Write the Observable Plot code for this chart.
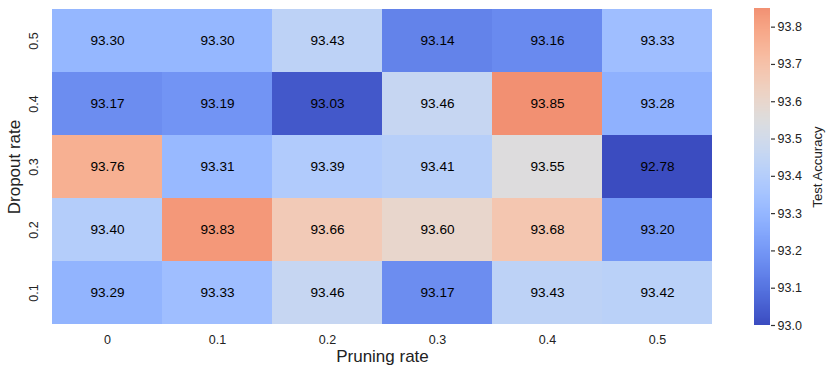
<!DOCTYPE html>
<html>
<head>
<meta charset="utf-8">
<script src="https://cdn.jsdelivr.net/npm/d3@7"></script>
<script src="https://cdn.jsdelivr.net/npm/@observablehq/plot@0.6"></script>
<style>
  body { margin: 0; background: #fff; }
  #wrap { position: relative; width: 831px; height: 376px; font-family: "Liberation Sans", Arial, Helvetica, sans-serif; }
  #main, #cbar { position: absolute; top: 0; }
  #main { left: 0; }
  #cbar { left: 740px; }
</style>
</head>
<body>
<div id="wrap"><div id="main"></div><div id="cbar"></div></div>
<script>
// Data
const pruningRates = ["0", "0.1", "0.2", "0.3", "0.4", "0.5"];
const dropoutRates = ["0.5", "0.4", "0.3", "0.2", "0.1"]; // top to bottom
const acc_d05 = [93.30, 93.30, 93.43, 93.14, 93.16, 93.33];
const acc_d04 = [93.17, 93.19, 93.03, 93.46, 93.85, 93.28];
const acc_d03 = [93.76, 93.31, 93.39, 93.41, 93.55, 92.78];
const acc_d02 = [93.40, 93.83, 93.66, 93.60, 93.68, 93.20];
const acc_d01 = [93.29, 93.33, 93.46, 93.17, 93.43, 93.42];
const rows = [acc_d05, acc_d04, acc_d03, acc_d02, acc_d01];
const cbarTicks = [93.0, 93.1, 93.2, 93.3, 93.4, 93.5, 93.6, 93.7, 93.8];

const cells = [];
rows.forEach((r, i) => r.forEach((v, j) => cells.push({pruning: pruningRates[j], dropout: dropoutRates[i], acc: v})));

// matplotlib coolwarm
const coolwarmKeys = [
  [59,76,192],[68,90,204],[77,104,215],[87,117,225],[98,130,234],[108,142,241],[119,154,247],[130,165,251],
  [141,176,254],[152,185,255],[163,194,255],[174,201,253],[184,208,249],[194,213,244],[204,217,238],[213,219,230],
  [221,221,221],[229,216,209],[236,211,197],[241,204,185],[245,196,173],[247,187,160],[247,177,148],[247,166,135],
  [244,154,123],[241,141,111],[236,127,99],[229,112,88],[222,96,77],[213,80,66],[203,62,56],[192,40,47],[180,4,38]
].map(c => `rgb(${c[0]},${c[1]},${c[2]})`);
const coolwarm = d3.interpolateRgbBasis(coolwarmKeys);
const vmin = 93.0, vmax = 93.85, center = 93.55;
const vrange = Math.max(vmax - center, center - vmin);
const colorOpts = {type: "linear", domain: [center - vrange, center + vrange], interpolate: coolwarm, clamp: true};

const font = '"Liberation Sans", Arial, Helvetica, sans-serif';

const main = Plot.plot({
  width: 740, height: 376,
  marginLeft: 51, marginRight: 27, marginTop: 8, marginBottom: 51,
  style: {fontFamily: font, fontSize: "12px", color: "#222", background: "white"},
  x: {type: "band", domain: pruningRates, padding: 0, label: null},
  y: {type: "band", domain: dropoutRates, padding: 0, label: null},
  color: colorOpts,
  marks: [
    Plot.cell(cells, {x: "pruning", y: "dropout", fill: "acc", inset: 0, shapeRendering: "crispEdges"}),
    Plot.text(cells, {x: "pruning", y: "dropout", text: d => d.acc.toFixed(2), fill: "black", fontSize: 13.6}),
    Plot.axisX({tickSize: 0, tickPadding: 10, fontSize: 12.5, label: null}),
    Plot.axisY({tickSize: 0, tickPadding: 14, tickRotate: -90, fontSize: 12.5, label: null}),
    Plot.text(["Pruning rate"], {frameAnchor: "bottom", textAnchor: "middle", dy: 36, fontSize: 17, fill: "#222"}),
    Plot.text(["Dropout rate"], {frameAnchor: "left", textAnchor: "middle", dx: -37, rotate: -90, fontSize: 17, fill: "#222"})
  ]
});
document.getElementById("main").appendChild(main);

const cbarSteps = d3.range(vmin, vmax, 0.0025);
const cbar = Plot.plot({
  width: 91, height: 376,
  marginLeft: 14, marginRight: 61, marginTop: 8, marginBottom: 51,
  style: {fontFamily: font, fontSize: "12.5px", color: "#222", background: "white"},
  x: {domain: [0, 1], axis: null},
  y: {domain: [vmin, vmax], label: null},
  color: colorOpts,
  marks: [
    Plot.rectY(cbarSteps, {x1: 0, x2: 1, y1: d => d, y2: d => Math.min(d + 0.003, vmax), fill: d => d, shapeRendering: "crispEdges"}),
    Plot.axisY({anchor: "right", ticks: cbarTicks, tickFormat: d3.format(".1f"), tickSize: 4, tickPadding: 3, label: null, stroke: "#333", strokeWidth: 1.2}),
    Plot.text(["Test Accuracy"], {frameAnchor: "right", textAnchor: "middle", dx: 47, rotate: -90, fontSize: 13.2, fill: "#222"})
  ]
});
document.getElementById("cbar").appendChild(cbar);
</script>
</body>
</html>
